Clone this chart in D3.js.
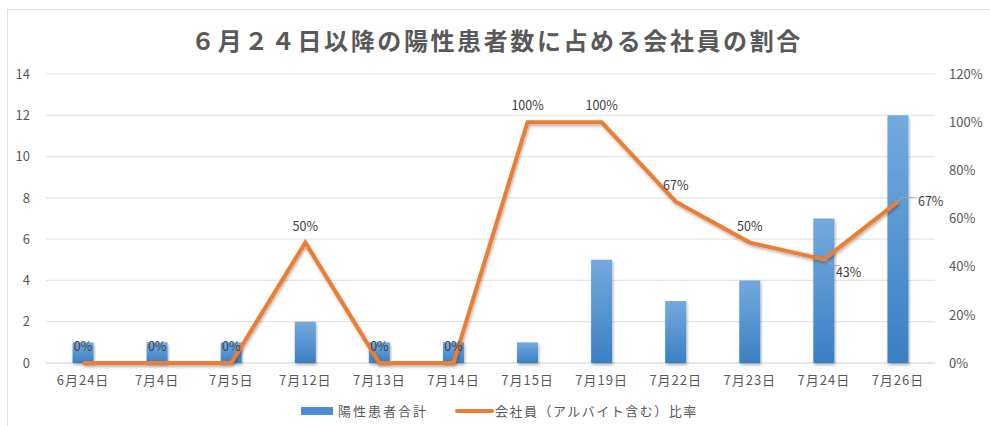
<!doctype html>
<html lang="ja">
<head>
<meta charset="utf-8">
<script src="https://cdn.jsdelivr.net/npm/d3@7"></script>
<style>
  body { margin: 0; background: #fff; }
  text { font-family: "Noto Sans CJK JP", "Noto Sans", sans-serif; }
</style>
</head>
<body>
<script>
var categories = ["6月24日", "7月4日", "7月5日", "7月12日", "7月13日", "7月14日",
                  "7月15日", "7月19日", "7月22日", "7月23日", "7月24日", "7月26日"];
var totals = [1, 1, 1, 2, 1, 1, 1, 5, 3, 4, 7, 12];
var ratios = [0, 0, 0, 50, 0, 0, 100, 100, 67, 50, 43, 67];
var leftTicks = [0, 2, 4, 6, 8, 10, 12, 14];
var rightTicks = [0, 20, 40, 60, 80, 100, 120];

var W = 990, H = 426;
var margin = {top: 74, right: 55, bottom: 63, left: 46};
var iw = W - margin.left - margin.right;
var ih = H - margin.top - margin.bottom;

var svg = d3.select("body").append("svg")
    .attr("width", W).attr("height", H);

var defs = svg.append("defs");
var grad = defs.append("linearGradient").attr("id", "barGrad")
    .attr("x1", 0).attr("y1", 0).attr("x2", 0).attr("y2", 1);
grad.append("stop").attr("offset", "0%").attr("stop-color", "#74a9dd");
grad.append("stop").attr("offset", "100%").attr("stop-color", "#3a80c4");
var shadow = defs.append("filter").attr("id", "shadow")
    .attr("x", "-10%").attr("y", "-10%").attr("width", "120%").attr("height", "130%");
shadow.append("feDropShadow").attr("dx", 1).attr("dy", 2).attr("stdDeviation", 1.5)
    .attr("flood-color", "#000").attr("flood-opacity", 0.3);

// chart frame
svg.append("rect").attr("x", 7.5).attr("y", 9.5).attr("width", W).attr("height", H)
    .attr("fill", "none").attr("stroke", "#e3e3e3");

svg.append("text")
    .attr("x", 497).attr("y", 50)
    .attr("text-anchor", "middle")
    .attr("fill", "#595959")
    .style("font-size", "24px").style("font-weight", "bold").style("letter-spacing", "2.6px")
    .text("６月２４日以降の陽性患者数に占める会社員の割合");

var g = svg.append("g").attr("transform", "translate(" + margin.left + "," + margin.top + ")");

var x = d3.scaleBand().domain(categories).range([0, iw]);
var yL = d3.scaleLinear().domain([0, 14]).range([ih, 0]);
var yR = d3.scaleLinear().domain([0, 120]).range([ih, 0]);

// gridlines
g.selectAll("line.grid").data(leftTicks).enter().append("line")
    .attr("x1", 0).attr("x2", iw)
    .attr("y1", d => yL(d)).attr("y2", d => yL(d))
    .attr("stroke", d => d === 0 ? "#d0d0d0" : "#e6e6e6").attr("stroke-width", 1.2);

var leftAxis = g.append("g").call(d3.axisLeft(yL).tickValues(leftTicks).tickSize(0).tickPadding(14));
var rightAxis = g.append("g").attr("transform", "translate(" + iw + ",0)")
    .call(d3.axisRight(yR).tickValues(rightTicks).tickSize(0).tickPadding(14).tickFormat(d => d + "%"));
var bottomAxis = g.append("g").attr("transform", "translate(0," + ih + ")")
    .call(d3.axisBottom(x).tickSize(0).tickPadding(13));
[leftAxis, rightAxis, bottomAxis].forEach(a => {
  a.select(".domain").remove();
  a.selectAll("text").attr("fill", "#595959").style("font-size", "13px");
});
bottomAxis.selectAll("text").style("letter-spacing", "1px");
leftAxis.selectAll("text").attr("dx", -2);

var bw = 21;
g.selectAll("rect.bar").data(totals).enter().append("rect")
    .attr("x", (d, i) => x(categories[i]) + x.bandwidth() / 2 - bw / 2)
    .attr("y", d => yL(d))
    .attr("width", bw)
    .attr("height", d => ih - yL(d))
    .attr("fill", "url(#barGrad)")
    .attr("filter", "url(#shadow)");

var line = d3.line()
    .x((d, i) => x(categories[i]) + x.bandwidth() / 2)
    .y(d => yR(d));
g.append("path").datum(ratios)
    .attr("d", line)
    .attr("fill", "none")
    .attr("stroke", "#ed7d31")
    .attr("stroke-width", 4)
    .attr("stroke-linejoin", "miter")
    .attr("filter", "url(#shadow)");

// data labels
var lastI = ratios.length - 1;
g.selectAll("text.lbl").data(ratios).enter().append("text")
    .attr("x", (d, i) => {
      var cx = x(categories[i]) + x.bandwidth() / 2;
      if (i === lastI) return cx + 20;
      if (i === 10) return cx + 12;
      return cx;
    })
    .attr("y", (d, i) => {
      var cy = yR(d);
      if (i === lastI) return cy + 4;
      if (i === 10) return cy + 18;
      return cy - 12;
    })
    .attr("text-anchor", (d, i) => (i === lastI || i === 10) ? "start" : "middle")
    .attr("fill", "#404040")
    .style("font-size", "12.5px")
    .text(d => d + "%");

// leader lines for side labels
[[10, 10, 6, 16], [lastI, 3, -4, 18]].forEach(function (p) {
  var i = p[0];
  var cx = x(categories[i]) + x.bandwidth() / 2, cy = yR(ratios[i]);
  g.append("path")
    .attr("d", "M" + cx + "," + cy + " L" + (cx + p[1]) + "," + (cy + p[2]) + " L" + (cx + p[3]) + "," + (cy + p[2]))
    .attr("fill", "none").attr("stroke", "#a6a6a6").attr("stroke-width", 1);
});

// legend
var lg = svg.append("g").attr("transform", "translate(0,411)");
lg.append("rect").attr("x", 301).attr("y", -4).attr("width", 32).attr("height", 8).attr("fill", "#4a8fd3");
lg.append("text").attr("x", 338).attr("y", 5).attr("fill", "#595959")
    .style("font-size", "13px").style("letter-spacing", "2px").text("陽性患者合計");
lg.append("line").attr("x1", 457).attr("x2", 492).attr("y1", 0).attr("y2", 0)
    .attr("stroke", "#ed7d31").attr("stroke-width", 4).attr("stroke-linecap", "round");
lg.append("text").attr("x", 495).attr("y", 5).attr("fill", "#595959")
    .style("font-size", "13px").style("letter-spacing", "1.5px").text("会社員（アルバイト含む）比率");
</script>
</body>
</html>
